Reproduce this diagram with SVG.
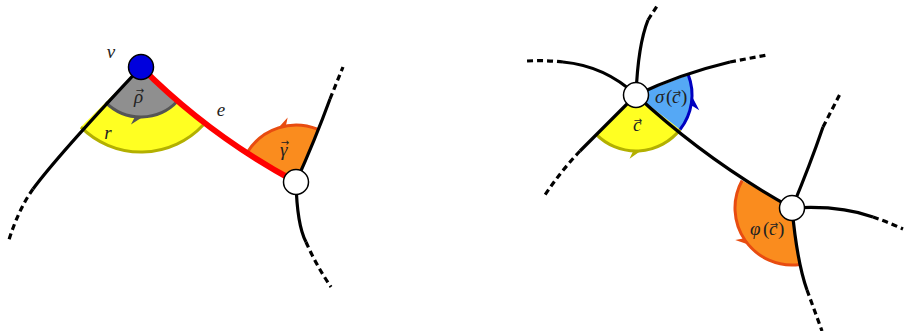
<svg xmlns="http://www.w3.org/2000/svg" xmlns:xlink="http://www.w3.org/1999/xlink" width="904" height="331" viewBox="0 0 904 331">
<style>
.edge{fill:none;stroke:#000;stroke-width:3.2;stroke-linecap:butt}
.dash{fill:none;stroke:#000;stroke-width:3.2;stroke-dasharray:6,4}
.red{fill:none;stroke:#ff0000;stroke-width:6}
.node{stroke:#000;stroke-width:1.5}
.lbl{font-family:"Liberation Serif",serif;font-style:italic;font-size:19px;fill:#222;text-anchor:middle}
.seq{font-family:"Liberation Serif",serif;font-style:italic;font-size:19px;fill:#222}
.up{font-style:normal}
.vec{font-family:"DejaVu Sans",sans-serif;font-style:normal;font-size:10px}
.arc{fill:none;stroke-width:3}
</style>
<defs>
<path id="tip" d="M0,0 L-12,-7 L-8,0 L-12,7 Z"/>
</defs>
<g id="sectors">
<g id="sector-r">
<path d="M141,67 L203.2,125 A85,85 0 0 1 80.9,127.1 Z" fill="#ffff22"/>
<path class="arc" d="M203.2,125 A85,85 0 0 1 80.9,127.1" stroke="#b3b000"/>
</g>
<g id="sector-rho">
<use xlink:href="#tip" href="#tip" fill="#555" transform="translate(142.7,117) rotate(-2)"/>
<path d="M141,67 L177.6,101.1 A50,50 0 0 1 105.6,102.4 Z" fill="#8f8f8f"/>
<path class="arc" d="M177.6,101.1 A50,50 0 0 1 105.6,102.4" stroke="#555"/>
</g>
<g id="sector-gamma">
<use xlink:href="#tip" href="#tip" fill="#e84c10" transform="translate(278.4,127.8) rotate(162)"/>
<path d="M296,182 L247.7,151.8 A57,57 0 0 1 317.4,129.2 Z" fill="#fa8c1e"/>
<path class="arc" d="M247.7,151.8 A57,57 0 0 1 317.4,129.2" stroke="#e84c10"/>
</g>
<g id="sector-c">
<use xlink:href="#tip" href="#tip" fill="#b3b000" transform="translate(640.9,150.8) rotate(-5)"/>
<path d="M636,95 L680.1,129.5 A56,56 0 0 1 595.7,133.9 Z" fill="#ffff22"/>
<path class="arc" d="M680.1,129.5 A56,56 0 0 1 595.7,133.9" stroke="#b3b000"/>
</g>
<g id="sector-sigma">
<use xlink:href="#tip" href="#tip" fill="#0000c0" transform="translate(692.9,98) rotate(-87)"/>
<path d="M636,95 L688.3,74.9 A56,56 0 0 1 680.1,129.5 Z" fill="#55a8f5"/>
<path class="arc" d="M688.3,74.9 A56,56 0 0 1 680.1,129.5" stroke="#0000c0"/>
</g>
<g id="sector-phi">
<use xlink:href="#tip" href="#tip" fill="#e84c10" transform="translate(748.3,244.6) rotate(50)"/>
<path d="M792,208 L799.9,264.4 A57,57 0 0 1 742.1,180.4 Z" fill="#fa8c1e"/>
<path class="arc" d="M799.9,264.4 A57,57 0 0 1 742.1,180.4" stroke="#e84c10"/>
</g>
</g>
<g id="connectors">
<path class="edge" d="M141,67 C110,100 58,155 33,189"/>
<path class="dash" d="M33,189 Q18,210 8,243"/>
<path class="red" d="M141,67 Q210,136 296,182"/>
<path class="edge" d="M296,182 Q315,140 330,99"/>
<path class="dash" d="M330,99 L343,67"/>
<path class="edge" d="M296,182 Q297,225 306,242"/>
<path class="dash" d="M306,242 Q316,265 331,287"/>
<path class="edge" d="M636,95 Q707,161 792,208"/>
<path class="edge" d="M636,95 Q638,45 648,20"/>
<path class="dash" d="M648,20 L657,6"/>
<path class="edge" d="M636,95 Q605,66 563,62"/>
<path class="dash" d="M563,62 Q545,60 527,61"/>
<path class="edge" d="M636,95 Q680,74 730,62"/>
<path class="dash" d="M730,62 L767,55"/>
<path class="edge" d="M636,95 L580,151"/>
<path class="dash" d="M580,151 Q560,172 543,198"/>
<path class="edge" d="M792,208 Q810,165 823,127"/>
<path class="dash" d="M823,127 L840,94"/>
<path class="edge" d="M792,208 Q840,205 873,217"/>
<path class="dash" d="M873,217 Q888,222 903,229"/>
<path class="edge" d="M792,208 Q797,262 807,290"/>
<path class="dash" d="M807,290 L822,331"/>
</g>
<g id="node-v"><circle class="node" cx="141" cy="67" r="12.5" fill="#0000dd"/></g>
<g id="node-w"><circle class="node" cx="296" cy="182" r="12.5" fill="#fff"/></g>
<g id="node-a"><circle class="node" cx="636" cy="95" r="12.5" fill="#fff"/></g>
<g id="node-b"><circle class="node" cx="792" cy="208" r="12.5" fill="#fff"/></g>
<g id="labels">
<text class="lbl" x="111" y="58">v</text>
<text class="seq"><tspan x="134" y="103">ρ</tspan><tspan class="vec" x="135.8" y="94">→</tspan></text>
<text class="lbl" x="108" y="139">r</text>
<text class="lbl" x="221" y="116">e</text>
<text class="seq"><tspan x="280" y="156">γ</tspan><tspan class="vec" x="280.8" y="146">→</tspan></text>
<text class="seq"><tspan x="633" y="131">c</tspan><tspan class="vec" x="633.8" y="124">→</tspan></text>
<text class="seq"><tspan x="655" y="103">σ</tspan><tspan class="up" x="666" y="103">(</tspan><tspan x="672" y="103">c</tspan><tspan class="vec" x="672.8" y="96">→</tspan><tspan class="up" x="681" y="103">)</tspan></text>
<text class="seq"><tspan x="750" y="235">φ</tspan><tspan class="up" x="763" y="235">(</tspan><tspan x="769" y="235">c</tspan><tspan class="vec" x="769.8" y="228">→</tspan><tspan class="up" x="778" y="235">)</tspan></text>
</g>
</svg>
